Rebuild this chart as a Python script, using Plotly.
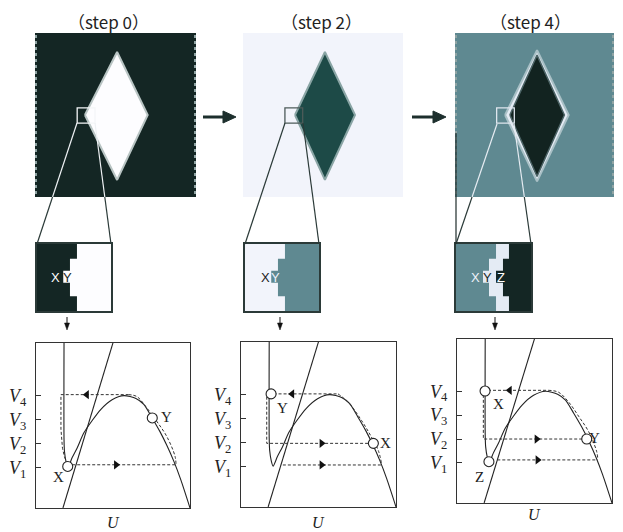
import plotly.graph_objects as go

W, H = 623, 532
OFF = 8  # page body margin
FW, FH = W - OFF, H - OFF

titles = ["（step 0）", "（step 2）", "（step 4）"]

# ---------- top images (image coordinates 0-100) ----------
diamond0_x = [31, 51, 70, 51, 31]
diamond0_y = [50, 88.4, 50, 10.4, 50]
diamond2_x = [32.5, 51.2, 70, 51.2, 32.5]
diamond2_y = [50, 88.4, 50, 10.4, 50]
diamond4_halo_x = [31.5, 51.6, 71.5, 51.6, 31.5]
diamond4_halo_y = [50, 89.5, 50, 9.5, 50]
diamond4_x = [34.5, 51.6, 68.8, 51.6, 34.5]
diamond4_y = [50, 86.5, 50, 12.5, 50]

# ---------- magnified boxes (cells 0-11 x 0-10) ----------
notch_y = [0, 0, 2.2, 2.2, 4.2, 4.2, 6.0, 6.0, 7.8, 7.8, 10, 10, 0]
mag0_dark_x = [0, 5.94, 5.94, 4.9, 4.9, 3.9, 3.9, 4.9, 4.9, 5.94, 5.94, 0, 0]
mag2_teal_x = [11, 5.94, 5.94, 4.9, 4.9, 3.9, 3.9, 4.9, 4.9, 5.94, 5.94, 11, 11]
mag4_light_x = [5.87, 7.77, 7.77, 5.87, 5.87, 4.84, 4.84, 3.96, 3.96, 4.84, 4.84, 5.87, 5.87]
mag4_light_y = [0, 0, 10, 10, 7.8, 7.8, 6.0, 6.0, 4.2, 4.2, 2.2, 2.2, 0]
mag4_dark_x = [11, 7.77, 7.77, 6.89, 6.89, 5.87, 5.87, 6.89, 6.89, 7.77, 7.77, 11, 11]

mag_labels = [
    [("X", 2.8, 5.0, "#ffffff"), ("Y", 4.55, 5.0, "#1a2a28")],
    [("X", 3.0, 5.0, "#222222"), ("Y", 4.55, 5.0, "#eef2fa")],
    [("X", 2.9, 5.0, "#eef2fa"), ("Y", 4.6, 5.0, "#1a2a28"), ("Z", 6.55, 5.0, "#ffffff")],
]

# ---------- phase-plane plots ----------
v_ticks = [1, 2, 3, 4]
v_labels = ["<i>V</i><sub>1</sub>", "<i>V</i><sub>2</sub>", "<i>V</i><sub>3</sub>", "<i>V</i><sub>4</sub>"]

nc_u = [0.182, 0.182, 0.185, 0.195, 0.207, 0.235, 0.268, 0.312, 0.42, 0.494, 0.571,
        0.649, 0.70, 0.753, 0.805, 0.85, 0.896, 0.94, 1.0]
nc_v = [6.3, 2.17, 1.67, 1.25, 1.02, 1.42, 1.83, 2.46, 3.42, 3.83, 4.0,
        3.88, 3.63, 3.08, 2.5, 1.92, 1.25, 0.5, -0.68]
line_u = [0.175, 0.5]
line_v = [-0.68, 6.2]

# panel 1 (step 0)
p1_left_u = [0.203, 0.185, 0.172, 0.163, 0.162, 0.162, 0.60]
p1_left_v = [1.15, 1.45, 1.8, 2.3, 2.6, 4.04, 4.04]
p1_right_u = [0.60, 0.655, 0.718, 0.784, 0.849, 0.903, 0.909]
p1_right_v = [4.04, 3.96, 3.5, 2.93, 2.30, 1.47, 1.12]
p1_bottom_u = [0.235, 0.909]
p1_bottom_v = [1.12, 1.12]

# panel 2 (step 2)
p2_top_u = [0.21, 0.626]
p2_top_v = [4.03, 4.03]
p2_right_u = [0.626, 0.692, 0.778, 0.84, 0.886, 0.907]
p2_right_v = [4.03, 3.68, 2.92, 2.25, 1.67, 1.11]
p2_left_u = [0.18, 0.166, 0.166, 0.835]
p2_left_v = [4.03, 4.03, 1.97, 1.97]
p2_bottom_u = [0.27, 0.907]
p2_bottom_v = [1.07, 1.07]

# panel 3 (step 4)
p3_top_u = [0.2, 0.589]
p3_top_v = [4.04, 4.04]
p3_right_u = [0.589, 0.655, 0.72, 0.785, 0.85, 0.9, 0.908]
p3_right_v = [4.04, 3.96, 3.55, 2.95, 2.3, 1.5, 1.2]
p3_left_u = [0.17, 0.17, 0.82]
p3_left_v = [3.85, 2.0, 2.0]
p3_bottom_u = [0.26, 0.908]
p3_bottom_v = [1.125, 1.125]

arrows_left = [[(0.33, 4.04)], [(0.33, 4.03)], [(0.34, 4.04)]]
arrows_right = [[(0.52, 1.12)], [(0.52, 1.97), (0.52, 1.07)], [(0.514, 2.0), (0.52, 1.125)]]

circles = [
    [("X", 0.206, 1.05, 0.143, 0.63), ("Y", 0.755, 3.07, 0.85, 3.1)],
    [("Y", 0.194, 4.03, 0.265, 3.46), ("X", 0.854, 1.97, 0.93, 1.97)],
    [("X", 0.181, 4.01, 0.265, 3.46), ("Y", 0.837, 2.0, 0.89, 2.04), ("Z", 0.206, 1.05, 0.148, 0.42)],
]

# ---------- layout helpers (reference pixel -> paper fraction) ----------
def PX(x):
    return (x - OFF) / FW

def PY(y):
    return 1 - (y - OFF) / FH

def dx(a, b):
    return [PX(a), PX(b)]

def dy(top, bottom):
    return [PY(bottom), PY(top)]

img_dom = [((35, 196), (33, 197)), ((243, 403), (33, 197)), ((455, 614), (33, 197))]
mag_dom = [((37, 111), (244, 311)), ((245, 319), (244, 311)), ((456, 531), (244, 311))]
plt_dom = [((36, 190), (343, 508)), ((241, 396), (342, 507)), ((457, 612), (339, 503))]

DARK = "#142624"
WHITE = "#fdfdff"
LIGHT = "#f2f4fb"
TEAL_D = "#1d4a47"
TEAL = "#5f8991"
HALO = "#e4ebf4"

fig = go.Figure()
layout = dict(width=FW, height=FH, margin=dict(l=0, r=0, t=0, b=0),
              paper_bgcolor="white", plot_bgcolor="rgba(0,0,0,0)", showlegend=False)
shapes = []
annotations = []

def hidden_axis(domain, rng, anchor):
    return dict(domain=domain, range=rng, visible=False, fixedrange=True, anchor=anchor,
                showticklabels=False, tickvals=[], showgrid=False, zeroline=False)

for i in range(3):
    n = i + 1
    (xa, xb), (yt, yb) = img_dom[i]
    layout["xaxis%d" % n if n > 1 else "xaxis"] = hidden_axis(dx(xa, xb), [0, 100], "y%d" % n if n > 1 else "y")
    layout["yaxis%d" % n if n > 1 else "yaxis"] = hidden_axis(dy(yt, yb), [0, 100], "x%d" % n if n > 1 else "x")

    m = i + 4
    (xa, xb), (yt, yb) = mag_dom[i]
    layout["xaxis%d" % m] = dict(domain=dx(xa, xb), range=[0, 11], showgrid=False, zeroline=False,
                                 showticklabels=False, tickvals=[], ticks="", showline=True, mirror=True,
                                 linecolor="#2b3a38", linewidth=1.5, anchor="y%d" % m, fixedrange=True)
    layout["yaxis%d" % m] = dict(domain=dy(yt, yb), range=[0, 10], showgrid=False, zeroline=False,
                                 showticklabels=False, tickvals=[], ticks="", showline=True, mirror=True,
                                 linecolor="#2b3a38", linewidth=1.5, anchor="x%d" % m, fixedrange=True)

    p = i + 7
    (xa, xb), (yt, yb) = plt_dom[i]
    layout["xaxis%d" % p] = dict(domain=dx(xa, xb), range=[0, 1], showgrid=False, zeroline=False,
                                 showticklabels=False, tickvals=[], ticks="", showline=True, mirror=True,
                                 linecolor="#333333", linewidth=1, anchor="y%d" % p, fixedrange=True)
    layout["yaxis%d" % p] = dict(domain=dy(yt, yb), range=[-0.68, 6.19], showgrid=False, zeroline=False,
                                 tickvals=v_ticks, ticktext=v_labels, ticks="inside", ticklen=5,
                                 tickcolor="#333333", showline=True, mirror=True, linecolor="#333333",
                                 linewidth=1, anchor="x%d" % p, fixedrange=True, ticklabelstandoff=5,
                                 tickfont=dict(family="Liberation Serif", size=18, color="#222222"))

def ax(n):
    return ("x" if n == 1 else "x%d" % n), ("y" if n == 1 else "y%d" % n)

# ---------- top images ----------
bgs = [DARK, LIGHT, TEAL]
for i in range(3):
    xr, yr = ax(i + 1)
    shapes.append(dict(type="rect", xref=xr + " domain", yref=yr + " domain", x0=0, x1=1, y0=0, y1=1,
                       fillcolor=bgs[i], line=dict(width=0), layer="below"))

fig.add_trace(go.Scatter(x=diamond0_x, y=diamond0_y, xaxis="x", yaxis="y", fill="toself",
                         fillcolor=WHITE, mode="lines", line=dict(color="#b8c4c3", width=2),
                         hoverinfo="skip"))
fig.add_trace(go.Scatter(x=diamond2_x, y=diamond2_y, xaxis="x2", yaxis="y2", fill="toself",
                         fillcolor=TEAL_D, mode="lines", line=dict(color="#8aa5a5", width=2),
                         hoverinfo="skip"))
fig.add_trace(go.Scatter(x=diamond4_halo_x, y=diamond4_halo_y, xaxis="x3", yaxis="y3", fill="toself",
                         fillcolor=HALO, mode="lines", line=dict(color="#a9c0c6", width=2),
                         hoverinfo="skip"))
fig.add_trace(go.Scatter(x=diamond4_x, y=diamond4_y, xaxis="x3", yaxis="y3", fill="toself",
                         fillcolor="#122320", mode="lines", line=dict(color="#4c6466", width=1.5),
                         hoverinfo="skip"))

# speckled image borders
for (xa, xb), (yt, yb) in [img_dom[0], img_dom[2]]:
    for xe in (xa + 1, xb - 1):
        shapes.append(dict(type="line", xref="paper", yref="paper", x0=PX(xe), x1=PX(xe),
                           y0=PY(yt + 2), y1=PY(yb - 2), line=dict(color="#8fa3a3", width=2, dash="dot")))

# zoom boxes inside images
zoom_box_col = ["#f4f6f8", "#4d5b5a", "#dfe6ee"]
for i in range(3):
    xr, yr = ax(i + 1)
    shapes.append(dict(type="rect", xref=xr, yref=yr, x0=26.2, x1=37.3, y0=45.1, y1=54.3,
                       line=dict(color=zoom_box_col[i], width=1.3)))

# connecting lines (inside image light, below image dark)
conn = [
    [((77, 123), (37, 244)), ((95, 123), (111, 244))],
    [((285, 123), (245, 244)), ((303, 123), (319, 244))],
    [((497, 124), (456, 244)), ((514, 124), (531, 244))],
]
inside_col = ["#eef1f4", "#2b3a38", "#e6ecf2"]
for i in range(3):
    for (x0, y0), (x1, y1) in conn[i]:
        t = (197 - y0) / (y1 - y0)
        xm = x0 + t * (x1 - x0)
        shapes.append(dict(type="line", xref="paper", yref="paper", x0=PX(x0), y0=PY(y0), x1=PX(xm), y1=PY(197),
                           line=dict(color=inside_col[i], width=1.2)))
        shapes.append(dict(type="line", xref="paper", yref="paper", x0=PX(xm), y0=PY(197), x1=PX(x1), y1=PY(y1),
                           line=dict(color="#2b3a38", width=1.2)))
shapes.append(dict(type="line", xref="paper", yref="paper", x0=PX(456), x1=PX(456), y0=PY(133), y1=PY(244),
                   line=dict(color="#1e2c2a", width=1.2)))

# ---------- magnified boxes ----------
shapes.append(dict(type="rect", xref="x4 domain", yref="y4 domain", x0=0, x1=1, y0=0, y1=1,
                   fillcolor=WHITE, line=dict(width=0), layer="below"))
shapes.append(dict(type="rect", xref="x5 domain", yref="y5 domain", x0=0, x1=1, y0=0, y1=1,
                   fillcolor=LIGHT, line=dict(width=0), layer="below"))
shapes.append(dict(type="rect", xref="x6 domain", yref="y6 domain", x0=0, x1=1, y0=0, y1=1,
                   fillcolor=TEAL, line=dict(width=0), layer="below"))
fig.add_trace(go.Scatter(x=mag0_dark_x, y=notch_y, xaxis="x4", yaxis="y4", fill="toself",
                         fillcolor=DARK, mode="lines", line=dict(width=0), hoverinfo="skip"))
fig.add_trace(go.Scatter(x=mag2_teal_x, y=notch_y, xaxis="x5", yaxis="y5", fill="toself",
                         fillcolor=TEAL, mode="lines", line=dict(width=0), hoverinfo="skip"))
fig.add_trace(go.Scatter(x=mag4_light_x, y=mag4_light_y, xaxis="x6", yaxis="y6", fill="toself",
                         fillcolor=HALO, mode="lines", line=dict(width=0), hoverinfo="skip"))
fig.add_trace(go.Scatter(x=mag4_dark_x, y=notch_y, xaxis="x6", yaxis="y6", fill="toself",
                         fillcolor=DARK, mode="lines", line=dict(width=0), hoverinfo="skip"))
for i in range(3):
    m = i + 4
    for txt, x, y, col in mag_labels[i]:
        annotations.append(dict(text=txt, x=x, y=y, xref="x%d" % m, yref="y%d" % m, showarrow=False,
                                font=dict(family="Liberation Sans", size=13, color=col)))

# ---------- phase planes ----------
paths = [
    [(p1_left_u, p1_left_v, "linear"), (p1_right_u, p1_right_v, "spline"), (p1_bottom_u, p1_bottom_v, "linear")],
    [(p2_top_u, p2_top_v, "linear"), (p2_right_u, p2_right_v, "spline"), (p2_left_u, p2_left_v, "linear"),
     (p2_bottom_u, p2_bottom_v, "linear")],
    [(p3_top_u, p3_top_v, "linear"), (p3_right_u, p3_right_v, "spline"), (p3_left_u, p3_left_v, "linear"),
     (p3_bottom_u, p3_bottom_v, "linear")],
]
for i in range(3):
    xr, yr = "x%d" % (i + 7), "y%d" % (i + 7)
    fig.add_trace(go.Scatter(x=nc_u, y=nc_v, xaxis=xr, yaxis=yr, mode="lines",
                             line=dict(color="#222222", width=1.1, shape="spline", smoothing=0.7),
                             hoverinfo="skip"))
    fig.add_trace(go.Scatter(x=line_u, y=line_v, xaxis=xr, yaxis=yr, mode="lines",
                             line=dict(color="#222222", width=1.1), hoverinfo="skip"))
    for u, v, shp in paths[i]:
        fig.add_trace(go.Scatter(x=u, y=v, xaxis=xr, yaxis=yr, mode="lines",
                                 line=dict(color="#333333", width=1, dash="3px,2px", shape=shp),
                                 hoverinfo="skip"))
    la = arrows_left[i]
    fig.add_trace(go.Scatter(x=[a[0] for a in la], y=[a[1] for a in la], xaxis=xr, yaxis=yr,
                             mode="markers", marker=dict(symbol="triangle-left", size=8, color="#111111"),
                             hoverinfo="skip"))
    ra = arrows_right[i]
    fig.add_trace(go.Scatter(x=[a[0] for a in ra], y=[a[1] for a in ra], xaxis=xr, yaxis=yr,
                             mode="markers", marker=dict(symbol="triangle-right", size=8, color="#111111"),
                             hoverinfo="skip"))
    cs = circles[i]
    fig.add_trace(go.Scatter(x=[c[1] for c in cs], y=[c[2] for c in cs], xaxis=xr, yaxis=yr,
                             mode="markers", marker=dict(symbol="circle", size=10, color="white",
                                                         line=dict(color="#222222", width=1.1)),
                             hoverinfo="skip"))
    for name, cx, cy, lx, ly in cs:
        annotations.append(dict(text=name, x=lx, y=ly, xref=xr, yref=yr, showarrow=False,
                                font=dict(family="Liberation Serif", size=15, color="#222222")))
    u_shift = [-4, -5, -1][i]
    annotations.append(dict(text="<i>U</i>", x=0.5, y=0, xref=xr + " domain", yref=yr + " domain",
                            yanchor="top", yshift=u_shift, showarrow=False,
                            font=dict(family="Liberation Serif", size=16, color="#222222")))

# ---------- titles ----------
title_x = [108, 321, 530]
for i in range(3):
    annotations.append(dict(text=titles[i], x=PX(title_x[i]), y=1, xref="paper", yref="paper",
                            xanchor="center", yanchor="top", borderpad=0, showarrow=False,
                            font=dict(family="Noto Sans CJK JP", size=17, color="#222222")))

# ---------- arrows (drawn as shapes) ----------
for xt, xh in [(203, 236), (412, 446)]:
    shapes.append(dict(type="line", xref="paper", yref="paper", x0=PX(xt), x1=PX(xh - 10),
                       y0=PY(117), y1=PY(117), line=dict(color="#1d2f2d", width=3)))
    shapes.append(dict(type="path", xref="paper", yref="paper",
                       path="M %f %f L %f %f L %f %f Z" % (PX(xh - 13), PY(111), PX(xh), PY(117),
                                                          PX(xh - 13), PY(123)),
                       fillcolor="#1d2f2d", line=dict(color="#1d2f2d", width=1)))
for xa in [67, 280, 495]:
    shapes.append(dict(type="line", xref="paper", yref="paper", x0=PX(xa), x1=PX(xa),
                       y0=PY(317), y1=PY(324), line=dict(color="#111111", width=1)))
    shapes.append(dict(type="path", xref="paper", yref="paper",
                       path="M %f %f L %f %f L %f %f Z" % (PX(xa - 2.5), PY(323), PX(xa), PY(330),
                                                          PX(xa + 2.5), PY(323)),
                       fillcolor="#111111", line=dict(color="#111111", width=0.5)))

layout["shapes"] = shapes
layout["annotations"] = annotations
fig.update_layout(**layout)
fig.write_html("out.html")
